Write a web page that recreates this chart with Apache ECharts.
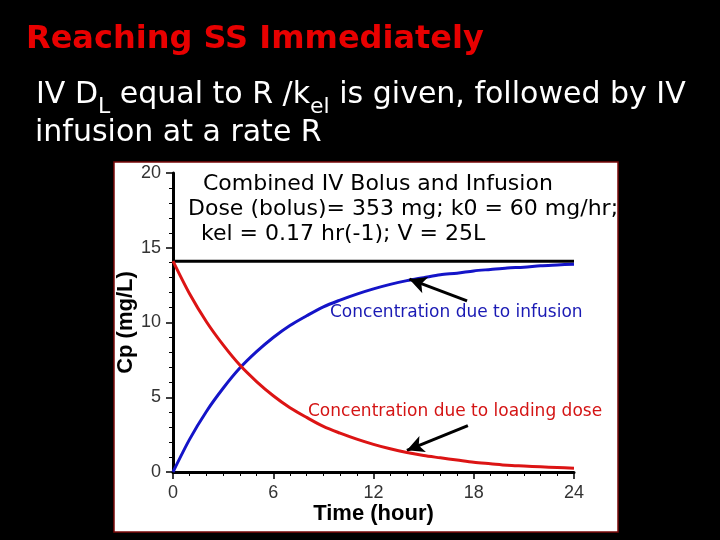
<!DOCTYPE html>
<html>
<head>
<meta charset="utf-8">
<script src="https://cdn.jsdelivr.net/npm/echarts@6/dist/echarts.min.js"></script>
<style>
html,body{margin:0;padding:0;background:#000;}
#chart{width:720px;height:540px;}
</style>
</head>
<body>
<div id="chart"></div>
<script>
// Time points (hour)
var hours = [0,1,2,3,4,5,6,7,8,9,10,11,12,13,14,15,16,17,18,19,20,21,22,23,24];
// Concentration due to loading dose (mg/L)
var loadingDose = [14.1,11.9,10.05,8.5,7.15,6.05,5.1,4.3,3.65,3.05,2.6,2.2,1.85,1.55,1.3,1.1,0.95,0.8,0.65,0.55,0.45,0.4,0.35,0.3,0.25];
// Concentration due to infusion (mg/L)
var infusion = [0,2.2,4.05,5.6,6.95,8.05,9.0,9.8,10.45,11.05,11.5,11.9,12.25,12.55,12.8,13.0,13.2,13.3,13.45,13.55,13.65,13.7,13.8,13.85,13.9];
// Combined (steady-state) level
var combinedHours = [0,24];
var combinedLevel = [14.1,14.1];
// Annotation arrows [fromHour, fromCp, toHour, toCp]
var arrowInfusion = [17.6,11.45,14.15,12.9];
var arrowLoading = [17.65,3.1,14.0,1.45];
// Axis ticks
var xTicks = {min:0,max:24,interval:6};
var yTicks = {min:0,max:20,interval:5};

function pairs(xs, ys){ return xs.map(function(x,i){ return [x, ys[i]]; }); }

var chart = echarts.init(document.getElementById('chart'), null, {renderer:'canvas'});
var axisCommon = {
  type:'value',
  nameLocation:'middle',
  nameMoveOverlap:false,
  nameTextStyle:{color:'#000', fontFamily:'Liberation Sans', fontWeight:'bold', fontSize:22},
  axisLine:{show:true, onZero:false, lineStyle:{color:'#000', width:3}},
  axisTick:{show:true, length:7, lineStyle:{color:'#000', width:1.5}},
  minorTick:{show:true, length:4, lineStyle:{color:'#000', width:1}},
  splitLine:{show:false},
  axisLabel:{color:'#333', fontFamily:'Liberation Sans', fontSize:18, margin:12}
};
var option = {
  backgroundColor:'#000',
  animation:false,
  title:[
    {text:'Reaching SS Immediately', left:26, top:24, padding:0,
     textStyle:{color:'#e80000', fontFamily:'DejaVu Sans', fontWeight:'bold', fontSize:32}},
    {text:'{m|IV D}{s|L}{m| equal to R /k}{s|el}{m| is given, followed by IV}', left:36, top:80, padding:0,
     textStyle:{fontWeight:'normal', rich:{
       m:{color:'#fff', fontFamily:'DejaVu Sans', fontWeight:'normal', fontSize:30, lineHeight:30, verticalAlign:'top'},
       s:{color:'#fff', fontFamily:'DejaVu Sans', fontWeight:'normal', fontSize:22, lineHeight:54, verticalAlign:'middle'}
     }}},
    {text:'infusion at a rate R', left:35, top:118, padding:0,
     textStyle:{color:'#fff', fontFamily:'DejaVu Sans', fontWeight:'normal', fontSize:30}}
  ],
  graphic:[
    {type:'rect', z:-10, shape:{x:114, y:162, width:504, height:370},
     style:{fill:'#fff', stroke:'#7a0a0a', lineWidth:1.5}},
    {type:'text', x:203, y:184, style:{text:'Combined IV Bolus and Infusion', fill:'#000', font:'22px "DejaVu Sans"', verticalAlign:'middle'}},
    {type:'text', x:188, y:209, style:{text:'Dose (bolus)= 353 mg; k0 = 60 mg/hr;', fill:'#000', font:'22px "DejaVu Sans"', verticalAlign:'middle'}},
    {type:'text', x:201, y:234, style:{text:'kel = 0.17 hr(-1); V = 25L', fill:'#000', font:'22px "DejaVu Sans"', verticalAlign:'middle'}},
    {type:'text', x:330, y:313, style:{text:'Concentration due to infusion', fill:'#1a1ab4', font:'17px "DejaVu Sans"', verticalAlign:'middle'}},
    {type:'text', x:308, y:412, style:{text:'Concentration due to loading dose', fill:'#d41414', font:'17px "DejaVu Sans"', verticalAlign:'middle'}}
  ],
  grid:{left:173, right:146, top:173, bottom:68, containLabel:false},
  xAxis:Object.assign({}, axisCommon, {
    min:xTicks.min, max:xTicks.max, interval:xTicks.interval,
    name:'Time (hour)', nameGap:31,
    minorTick:Object.assign({}, axisCommon.minorTick, {splitNumber:6})
  }),
  yAxis:Object.assign({}, axisCommon, {
    min:yTicks.min, max:yTicks.max, interval:yTicks.interval,
    name:'Cp (mg/L)', nameGap:36, nameRotate:90,
    minorTick:Object.assign({}, axisCommon.minorTick, {splitNumber:5})
  }),
  series:[
    {type:'line', name:'Combined', data:pairs(combinedHours, combinedLevel), showSymbol:false,
     lineStyle:{color:'#000', width:3}, z:3,
     markLine:{silent:true, symbol:['none','arrow'], symbolSize:[13,17],
       lineStyle:{color:'#000', width:3, type:'solid'}, label:{show:false},
       data:[
         [{coord:[arrowInfusion[0],arrowInfusion[1]]},{coord:[arrowInfusion[2],arrowInfusion[3]]}],
         [{coord:[arrowLoading[0],arrowLoading[1]]},{coord:[arrowLoading[2],arrowLoading[3]]}]
       ]}},
    {type:'line', name:'Infusion', data:pairs(hours, infusion), showSymbol:false, smooth:0.3,
     lineStyle:{color:'#1414c8', width:3}, z:4},
    {type:'line', name:'Loading dose', data:pairs(hours, loadingDose), showSymbol:false, smooth:0.3,
     lineStyle:{color:'#dc1414', width:3}, z:5}
  ]
};
chart.setOption(option);
</script>
</body>
</html>
